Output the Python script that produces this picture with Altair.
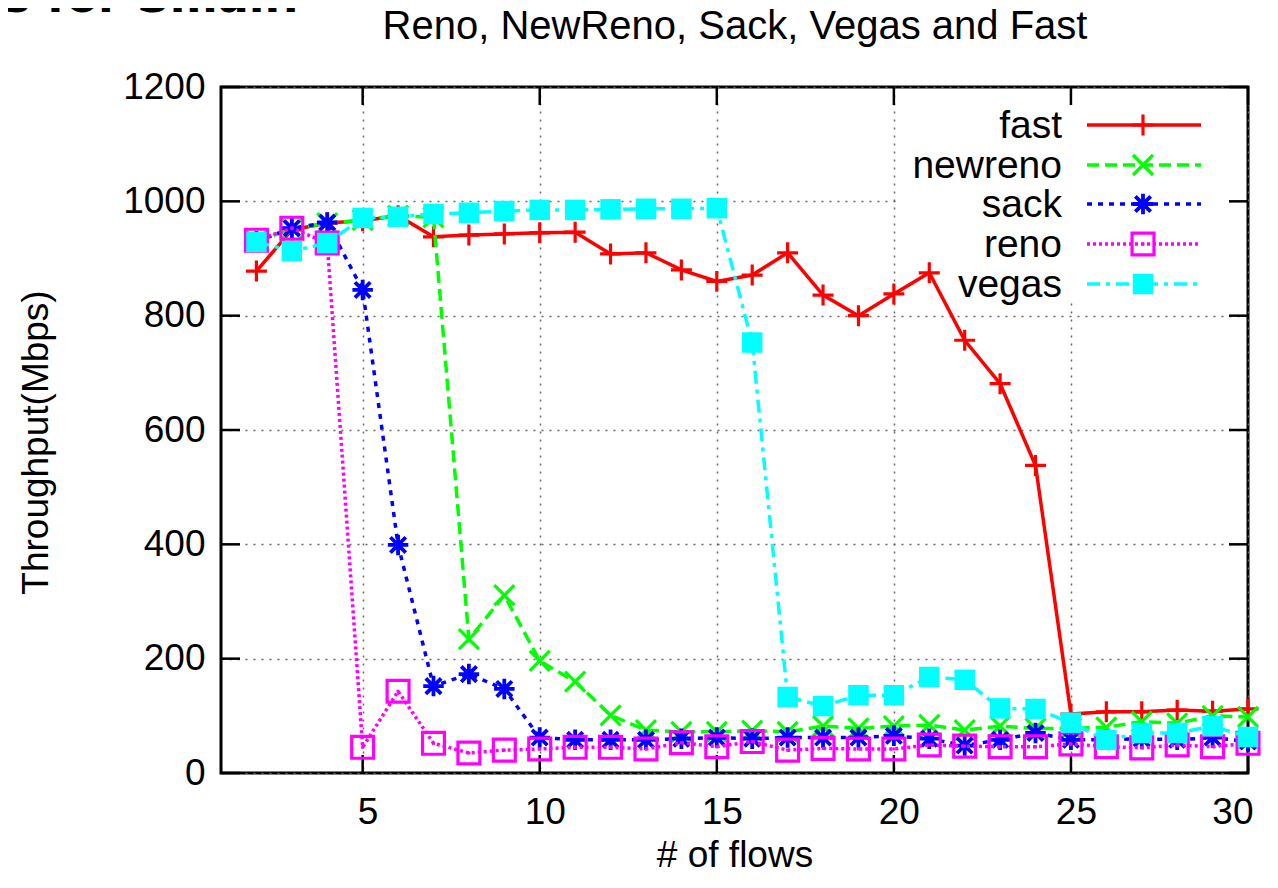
import altair as alt
import pandas as pd

# ---------------- data ----------------
flows = list(range(2, 31))
fast = [878, 950, 962, 966, 975, 938, 941, 943, 945, 946, 908, 910, 880, 860, 871,
        910, 836, 800, 838, 875, 757, 681, 538, 103, 107, 107, 110, 108, 112]
newreno = [930, 952, 962, 967, 975, 972, 234, 311, 196, 160, 101, 75, 72, 72, 74,
           72, 82, 78, 82, 84, 75, 82, 78, 78, 80, 90, 87, 100, 98]
sack = [930, 953, 963, 845, 399, 152, 173, 147, 62, 58, 58, 58, 60, 62, 60,
        62, 62, 62, 65, 60, 48, 58, 70, 58, 58, 60, 58, 62, 55]
reno = [932, 953, 927, 45, 143, 52, 35, 40, 42, 45, 45, 42, 53, 46, 55,
        40, 43, 42, 42, 49, 47, 46, 46, 51, 46, 44, 49, 46, 52]
vegas = [929, 913, 927, 971, 973, 978, 980, 983, 985, 985, 986, 987, 987, 988, 753,
         133, 117, 136, 136, 168, 163, 113, 112, 88, 58, 70, 70, 82, 63]

series_names = ["fast", "newreno", "sack", "reno", "vegas"]
series_values = [fast, newreno, sack, reno, vegas]
x_ticks = [5, 10, 15, 20, 25, 30]
y_ticks = [0, 200, 400, 600, 800, 1000, 1200]

title_text = "Reno, NewReno, Sack, Vegas and Fast"
x_title = "# of flows"
y_title = "Throughput(Mbps)"
corner_text = "s for Small!"

# ---------------- styles ----------------
FONT = "Liberation Sans"
W, H = 1027, 686
colors = {"fast": "#ff0000", "newreno": "#00ff00", "sack": "#0000ff",
          "reno": "#ff00ff", "vegas": "#00ffff"}
dashes = {"fast": None, "newreno": [12, 6], "sack": [5, 6], "reno": [3, 3],
          "vegas": [13, 6, 4, 6]}
PLUS = "M-1,0L1,0M0,-1L0,1"
CROSS = "M-1,-1L1,1M-1,1L1,-1"
STAR = "M-1,0L1,0M0,-1L0,1M-0.75,-0.75L0.75,0.75M-0.75,0.75L0.75,-0.75"
markers = {
    "fast": dict(shape=PLUS, filled=False, size=440, strokeWidth=3.2),
    "newreno": dict(shape=CROSS, filled=False, size=400, strokeWidth=3.2),
    "sack": dict(shape=STAR, filled=False, size=420, strokeWidth=3.8),
    "reno": dict(shape="square", filled=False, size=480, strokeWidth=3.2),
    "vegas": dict(shape="square", filled=True, size=420, strokeWidth=0),
}

rows = []
for name, vals in zip(series_names, series_values):
    for f, v in zip(flows, vals):
        rows.append({"flows": f, "thr": v, "series": name})
df = pd.DataFrame(rows)

xscale = alt.Scale(domain=[1, 30], nice=False, zero=False)
yscale = alt.Scale(domain=[0, 1200], nice=False, zero=False)
xaxis = alt.Axis(values=x_ticks, title=x_title, grid=True, ticks=False, domain=False,
                 format="d", labelPadding=21, labelFontSize=37, labelFont=FONT,
                 labelColor="black",
                 titleFont=FONT, titleFontSize=37, titleFontWeight="normal", titleColor="black",
                 titleX=W / 2, titleY=93, titleBaseline="alphabetic", titleAlign="center",
                 gridDash=[2, 6], gridColor="#666666", gridWidth=1.5, labelOffset=5)
yaxis = alt.Axis(values=y_ticks, title=y_title, grid=True, ticks=False, domain=False,
                 format="d", labelPadding=16, labelFontSize=37, labelFont=FONT,
                 labelColor="black",
                 titleFont=FONT, titleFontSize=37, titleFontWeight="normal", titleColor="black",
                 titleX=-174, titleY=355, titleAngle=270, titleBaseline="alphabetic",
                 titleAlign="center",
                 gridDash=[2, 6], gridColor="#666666", gridWidth=1.5)
X = alt.X("flows:Q", scale=xscale, axis=xaxis)
Y = alt.Y("thr:Q", scale=yscale, axis=yaxis)

one = pd.DataFrame({"k": [0]})
layers = []

# white key box (hides grid behind the key, as gnuplot does)
layers.append(alt.Chart(one).mark_rect(color="white").encode(
    x=alt.value(677), x2=alt.value(1004), y=alt.value(8), y2=alt.value(215)))

# inward ticks on all four sides
xt = pd.DataFrame({"flows": x_ticks})
yt = pd.DataFrame({"thr": y_ticks})
TICK = dict(color="black", strokeWidth=2.5)
layers.append(alt.Chart(xt).mark_rule(**TICK).encode(x=X, y=alt.value(H), y2=alt.value(H - 18)))
layers.append(alt.Chart(xt).mark_rule(**TICK).encode(x=X, y=alt.value(0), y2=alt.value(18)))
layers.append(alt.Chart(yt).mark_rule(**TICK).encode(y=Y, x=alt.value(0), x2=alt.value(19)))
layers.append(alt.Chart(yt).mark_rule(**TICK).encode(y=Y, x=alt.value(W), x2=alt.value(W - 19)))

# series
for name in series_names:
    sub = df[df.series == name]
    line_kw = dict(color=colors[name], strokeWidth=3.5)
    if dashes[name]:
        line_kw["strokeDash"] = dashes[name]
    layers.append(alt.Chart(sub).mark_line(**line_kw).encode(x=X, y=Y))
    mk = markers[name]
    layers.append(alt.Chart(sub).mark_point(color=colors[name], opacity=1, **mk).encode(x=X, y=Y))
    if name == "reno":
        layers.append(alt.Chart(sub).mark_point(color=colors[name], filled=True, opacity=1,
                                                shape="square", size=9).encode(x=X, y=Y))

# key
key_y = [38, 78, 117, 157, 197]
for name, ky in zip(series_names, key_y):
    kd = pd.DataFrame({"label": [name]})
    layers.append(alt.Chart(kd).mark_text(font=FONT, fontSize=39, align="right",
                                          baseline="middle", color="black", dy=1).encode(
        text="label:N", x=alt.value(841), y=alt.value(ky)))
    line_kw = dict(color=colors[name], strokeWidth=3.5)
    if dashes[name]:
        line_kw["strokeDash"] = dashes[name]
    layers.append(alt.Chart(kd).mark_rule(**line_kw).encode(
        x=alt.value(866), x2=alt.value(980), y=alt.value(ky)))
    layers.append(alt.Chart(kd).mark_point(color=colors[name], opacity=1, **markers[name]).encode(
        x=alt.value(922), y=alt.value(ky)))
    if name == "reno":
        layers.append(alt.Chart(kd).mark_point(color=colors[name], filled=True, opacity=1,
                                               shape="square", size=9).encode(
            x=alt.value(922), y=alt.value(ky)))

# title and cropped slide text
td = pd.DataFrame({"t": [title_text]})
layers.append(alt.Chart(td).mark_text(font=FONT, fontSize=40, align="center",
                                      baseline="alphabetic", color="black").encode(
    text="t:N", x=alt.value(514), y=alt.value(-48)))
cd = pd.DataFrame({"t": [corner_text]})
layers.append(alt.Chart(cd).mark_text(font="DejaVu Sans", fontSize=46, fontWeight="bold",
                                      align="left", baseline="alphabetic", color="black").encode(
    text="t:N", x=alt.value(-218), y=alt.value(-75)))

chart = alt.layer(*layers).properties(
    width=W, height=H,
    autosize=alt.AutoSizeParams(type="none"),
    padding={"left": 213, "top": 79, "right": 15, "bottom": 101},
    background="white",
).configure_view(stroke="black", strokeWidth=3)

chart.save("out.html", embed_options={"renderer": "svg", "actions": False})
